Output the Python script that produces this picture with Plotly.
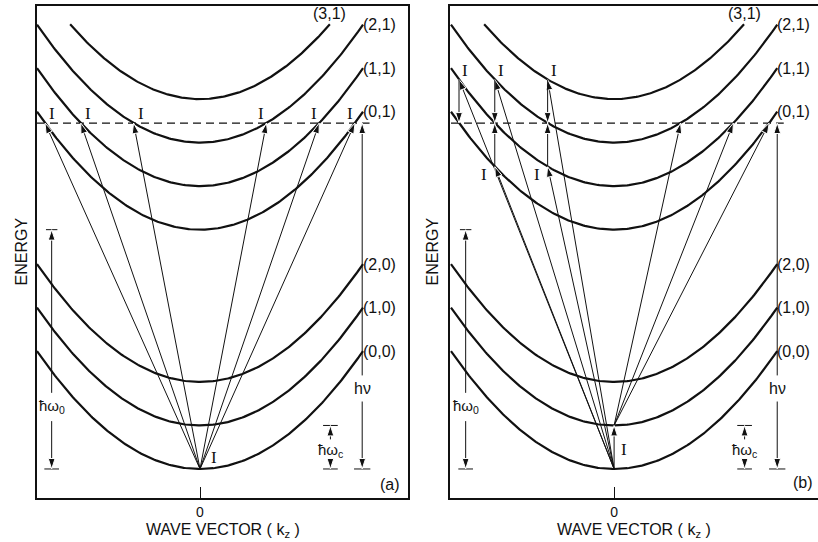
import numpy as np
import plotly.graph_objects as go
from plotly.subplots import make_subplots

# ---------------- data (energies in units of hbar*omega_c) ----------------
hbar_wc = 1.0          # cyclotron quantum
hbar_w0 = 5.5          # optical phonon / band offset quantum
h_nu = 7.95            # photon energy (dashed line)
band_curv = 2.71       # energy rise of a band at |k_z| = 1
band_n = [0, 1, 2, 0, 1, 2, 3]
band_m = [0, 0, 0, 1, 1, 1, 1]
band_labels = ["(0,0)", "(1,0)", "(2,0)", "(0,1)", "(1,1)", "(2,1)", "(3,1)"]
k_limit = 1.0          # half-width of drawn bands
E_limit = 10.22        # bands are not drawn above this energy
final_n = [0, 1, 2]    # (n,1) bands reached at h_nu
tick_vals = [0]
tick_text = ["0"]

INK = "#111111"
SANS = "Liberation Sans, Arial, sans-serif"
SERIF = "Liberation Serif, DejaVu Serif, serif"


def band_energy(n, m, k):
    return m * hbar_w0 + n * hbar_wc + band_curv * k ** 2


def k_cross(n, level):
    return np.sqrt((level - hbar_w0 - n * hbar_wc) / band_curv)


fig = make_subplots(rows=1, cols=2, horizontal_spacing=0.0)


def seg(col, xs, ys, width=1.0, dash=None):
    fig.add_trace(go.Scatter(x=xs, y=ys, mode="lines",
                             line=dict(color=INK, width=width, dash=dash),
                             hoverinfo="skip", showlegend=False), row=1, col=col)


def arrow(col, x0, y0, x1, y1, width=1.0, head=11):
    fig.add_trace(go.Scatter(x=[x0, x1], y=[y0, y1], mode="lines+markers",
                             line=dict(color=INK, width=width),
                             marker=dict(symbol="arrow", size=[0, head], angleref="previous",
                                         color=INK, opacity=[0, 1]),
                             hoverinfo="skip", showlegend=False), row=1, col=col)


def text(col, x, y, s, size=16, font=SANS, xanchor="center", yanchor="middle",
         xshift=0, yshift=0):
    xr = "x" if col == 1 else "x2"
    yr = "y" if col == 1 else "y2"
    fig.add_annotation(x=x, y=y, xref=xr, yref=yr, text=s, showarrow=False,
                       font=dict(family=font, size=size, color=INK),
                       xanchor=xanchor, yanchor=yanchor, xshift=xshift, yshift=yshift)


for col in (1, 2):
    # bands
    for n, m, lab in zip(band_n, band_m, band_labels):
        kmax = min(k_limit, np.sqrt(max(E_limit - m * hbar_w0 - n * hbar_wc, 0) / band_curv))
        k = np.linspace(-kmax, kmax, 201)
        seg(col, k, band_energy(n, m, k), width=2.2)
        if kmax < k_limit:
            text(col, kmax, band_energy(n, m, kmax), lab, yanchor="bottom", yshift=0)
        else:
            text(col, kmax, band_energy(n, m, kmax), lab, xanchor="left", xshift=-2)

    # photon energy dashed line
    seg(col, [-k_limit, 1.04], [h_nu, h_nu], width=1.3, dash="8px,5px")

    # hbar omega_0 marker
    kw0 = -0.91
    seg(col, [kw0 - 0.045, kw0 + 0.045], [0, 0])
    seg(col, [kw0 - 0.035, kw0 + 0.035], [hbar_w0, hbar_w0])
    arrow(col, kw0, 1.75, kw0, hbar_w0)
    arrow(col, kw0, 1.1, kw0, 0)
    text(col, kw0, 1.43, "ħω<sub>0</sub>", size=15)

    # hbar omega_c marker
    kwc = 0.80
    seg(col, [kwc - 0.045, kwc + 0.045], [0, 0])
    seg(col, [kwc - 0.045, kwc + 0.045], [hbar_wc, hbar_wc])
    arrow(col, kwc, 0.68, kwc, hbar_wc)
    arrow(col, kwc, 0.2, kwc, 0)
    text(col, kwc, 0.42, "ħω<sub>c</sub>", size=15)

    # h nu marker
    knu = 0.995 if col == 1 else 1.0
    seg(col, [knu - 0.05, knu + 0.05], [0, 0])
    arrow(col, knu, 2.15, knu, h_nu)
    arrow(col, knu, 1.55, knu, 0)
    text(col, knu, 1.86, "hν", size=16)

# ---------------- panel (a): indirect transitions from band bottom ----------------
for n in final_n:
    kk = k_cross(n, h_nu)
    for sgn in (-1, 1):
        arrow(1, 0, 0, sgn * kk, h_nu)
        text(1, sgn * kk, h_nu, "I", font=SERIF, size=17, yshift=10,
             xshift=7 if sgn < 0 else -5)
text(1, 0, 0, "I", font=SERIF, size=17, xshift=14, yshift=11)

# ---------------- panel (b) ----------------
for n in final_n:
    kk = -k_cross(n, h_nu)
    up = h_nu + hbar_wc
    arrow(2, 0, 0, kk, up)
    arrow(2, kk, up, kk, h_nu)
    text(2, kk, up, "I", font=SERIF, size=17, xshift=6, yshift=9)
    if n >= 1:
        lo = h_nu - hbar_wc
        arrow(2, 0, 0, kk, lo)
        arrow(2, kk, lo, kk, h_nu)
        text(2, kk, lo, "I", font=SERIF, size=17, xshift=-11, yshift=-8)
    arrow(2, 0, hbar_wc, -kk, h_nu)
arrow(2, 0, 0, 0, hbar_wc)
text(2, 0, hbar_wc / 2, "I", font=SERIF, size=17, xshift=10, yshift=-2)

# panel tags
text(1, 1.165, -0.36, "(a)", size=16)
text(2, 1.16, -0.30, "(b)", size=16)

# axis titles
for col in (1, 2):
    xd = "x domain" if col == 1 else "x2 domain"
    yd = "y domain" if col == 1 else "y2 domain"
    fig.add_annotation(xref=xd, yref="y" if col == 1 else "y2", x=0, y=5.0,
                       text="ENERGY", textangle=-90, showarrow=False,
                       xanchor="center", yanchor="middle",
                       xshift=-16 if col == 1 else -18,
                       font=dict(family=SANS, size=16, color=INK))
    fig.add_annotation(xref=xd, yref=yd, x=0.5, y=0, yshift=-32, yanchor="middle",
                       xanchor="center",
                       text="WAVE VECTOR ( k<sub>z</sub> )", showarrow=False,
                       font=dict(family=SANS, size=16, color=INK))

yr = [-0.667, 10.64]
axis_common = dict(showgrid=False, zeroline=False, showline=True, linecolor=INK,
                   linewidth=1.5)
fig.update_xaxes(axis_common, mirror=True, tickvals=tick_vals, ticktext=tick_text,
                 ticks="inside", ticklen=11, tickwidth=1, tickcolor=INK,
                 tickfont=dict(family=SANS, size=14, color=INK))
fig.update_yaxes(axis_common, showticklabels=False, ticks="", range=yr)
fig.update_yaxes(mirror=True, row=1, col=1)
fig.update_yaxes(mirror=False, row=1, col=2)
fig.update_xaxes(range=[-1.0, 1.276], domain=[0, 371 / 781], row=1, col=1)
fig.update_xaxes(range=[-1.006, 1.25], domain=[413 / 781, 1], row=1, col=2)

fig.update_layout(width=818, height=542, margin=dict(l=37, r=0, t=6, b=44),
                  paper_bgcolor="white", plot_bgcolor="white", showlegend=False)

fig.write_html("out.html", config={"displayModeBar": False},
               post_script="document.body.style.margin='0';document.body.style.overflow='hidden';")
